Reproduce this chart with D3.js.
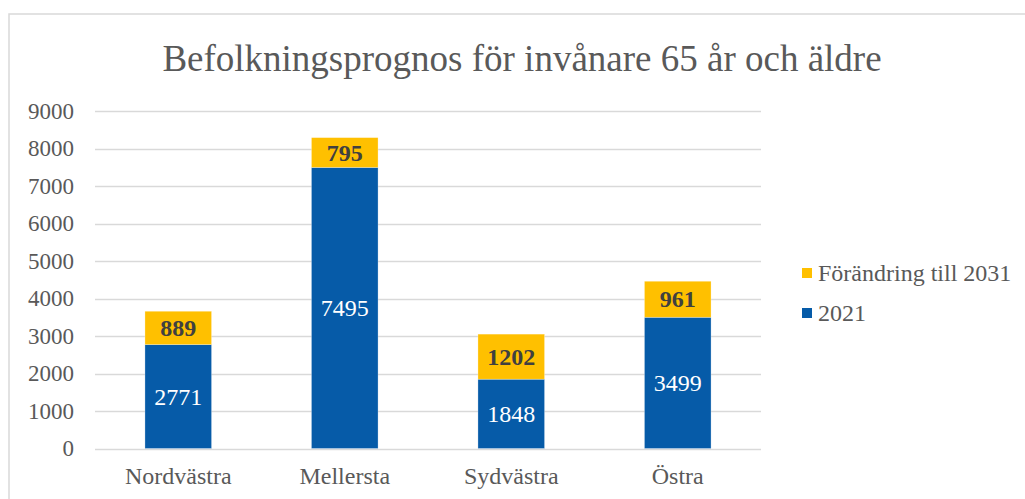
<!DOCTYPE html>
<html lang="sv">
	<head>
		<meta charset="utf-8">
		<title>Befolkningsprognos</title>
		<script src="https://cdn.jsdelivr.net/npm/d3@7"></script>
		<style type="text/css">
			body { margin: 0; background: #fff; }
			text { font-family: "Liberation Serif", "Times New Roman", serif; }
		</style>
	</head>
	<body>
		<script type="text/javascript">

			// Data
			var categories = ["Nordvästra", "Mellersta", "Sydvästra", "Östra"];
			var base2021 = [2771, 7495, 1848, 3499];
			var change2031 = [889, 795, 1202, 961];
			var yTicks = [0, 1000, 2000, 3000, 4000, 5000, 6000, 7000, 8000, 9000];
			var seriesNames = ["Förändring till 2031", "2021"];

			var w = 1025;
			var h = 499;
			var blue = "#065ba8";
			var yellow = "#ffc000";

			var svg = d3.select("body")
						.append("svg")
						.attr("width", w)
						.attr("height", h);

			// chart border
			svg.append("path")
			   .attr("d", "M9," + h + " V14 H" + w)
			   .attr("fill", "none")
			   .attr("stroke", "#d9d9d9")
			   .attr("stroke-width", 1.5);

			// title
			svg.append("text")
			   .attr("x", 522)
			   .attr("y", 71)
			   .attr("text-anchor", "middle")
			   .attr("font-size", "37px")
			   .attr("fill", "#595959")
			   .text("Befolkningsprognos för invånare 65 år och äldre");

			var x = d3.scaleBand()
					  .domain(categories)
					  .range([95, 761])
					  .paddingInner(0.6)
					  .paddingOuter(0.3);

			var y = d3.scaleLinear()
					  .domain([0, 9000])
					  .range([448.5, 111]);

			// gridlines
			svg.selectAll("line.grid")
			   .data(yTicks)
			   .enter()
			   .append("line")
			   .attr("class", "grid")
			   .attr("x1", 95)
			   .attr("x2", 761)
			   .attr("y1", function(d) { return Math.round(y(d)) + 0.5; })
			   .attr("y2", function(d) { return Math.round(y(d)) + 0.5; })
			   .attr("stroke", "#d9d9d9")
			   .attr("stroke-width", 1.5);

			// y axis labels
			var yAxis = d3.axisLeft(y).tickValues(yTicks).tickFormat(d3.format("d")).tickSize(0).tickPadding(0);
			var yg = svg.append("g")
						.attr("transform", "translate(74,0)")
						.call(yAxis);
			yg.select(".domain").remove();
			yg.selectAll("text")
			  .attr("font-family", "Liberation Serif, Times New Roman, serif")
			  .attr("font-size", "23px")
			  .attr("fill", "#595959");

			// x axis labels
			var xAxis = d3.axisBottom(x).tickSize(0).tickPadding(0);
			var xg = svg.append("g")
						.attr("transform", "translate(0,467)")
						.call(xAxis);
			xg.select(".domain").remove();
			xg.selectAll("text")
			  .attr("font-family", "Liberation Serif, Times New Roman, serif")
			  .attr("font-size", "24px")
			  .attr("fill", "#595959");

			var rows = categories.map(function(c, i) {
				return { cat: c, a: base2021[i], b: change2031[i] };
			});

			// 2021 bars
			svg.selectAll("rect.base")
			   .data(rows)
			   .enter()
			   .append("rect")
			   .attr("class", "base")
			   .attr("x", function(d) { return x(d.cat); })
			   .attr("y", function(d) { return y(d.a); })
			   .attr("width", x.bandwidth())
			   .attr("height", function(d) { return y(0) - y(d.a); })
			   .attr("fill", blue)
			   .attr("stroke", "#ffffff")
			   .attr("stroke-opacity", 0.4)
			   .attr("stroke-width", 0.7);

			// change bars
			svg.selectAll("rect.change")
			   .data(rows)
			   .enter()
			   .append("rect")
			   .attr("class", "change")
			   .attr("x", function(d) { return x(d.cat); })
			   .attr("y", function(d) { return y(d.a + d.b); })
			   .attr("width", x.bandwidth())
			   .attr("height", function(d) { return y(d.a) - y(d.a + d.b); })
			   .attr("fill", yellow)
			   .attr("stroke", "#ffffff")
			   .attr("stroke-opacity", 0.4)
			   .attr("stroke-width", 0.7);

			// labels
			svg.selectAll("text.baseLabel")
			   .data(rows)
			   .enter()
			   .append("text")
			   .attr("class", "baseLabel")
			   .attr("text-anchor", "middle")
			   .attr("x", function(d) { return x(d.cat) + x.bandwidth() / 2; })
			   .attr("y", function(d) { return (y(0) + y(d.a)) / 2 + 8; })
			   .attr("font-size", "24px")
			   .attr("fill", "white")
			   .text(function(d) { return d.a; });

			svg.selectAll("text.changeLabel")
			   .data(rows)
			   .enter()
			   .append("text")
			   .attr("class", "changeLabel")
			   .attr("text-anchor", "middle")
			   .attr("x", function(d) { return x(d.cat) + x.bandwidth() / 2; })
			   .attr("y", function(d) { return (y(d.a) + y(d.a + d.b)) / 2 + 8; })
			   .attr("font-size", "24px")
			   .attr("font-weight", "bold")
			   .attr("fill", "#404040")
			   .text(function(d) { return d.b; });

			// legend
			var legendColors = [yellow, blue];
			var leg = svg.selectAll("g.legend")
						 .data(seriesNames)
						 .enter()
						 .append("g")
						 .attr("class", "legend")
						 .attr("transform", function(d, i) { return "translate(802," + (268 + i * 40) + ")"; });
			leg.append("rect")
			   .attr("width", 10)
			   .attr("height", 10)
			   .attr("fill", function(d, i) { return legendColors[i]; });
			leg.append("text")
			   .attr("x", 16)
			   .attr("y", 13)
			   .attr("font-size", "24px")
			   .attr("fill", "#595959")
			   .text(function(d) { return d; });

		</script>
	</body>
</html>
